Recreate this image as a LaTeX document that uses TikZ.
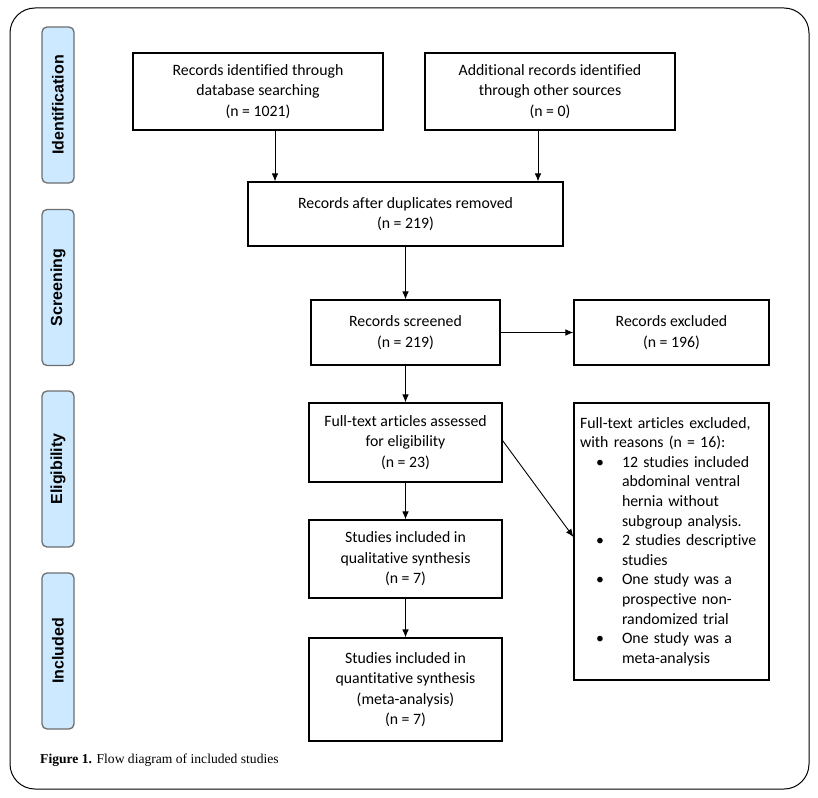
\documentclass[tikz,border=0pt]{standalone}
\usepackage{fontspec}
\setmainfont[Ligatures=NoCommon]{Carlito}
\newfontfamily\labelfont{Liberation Sans}
\newfontfamily\capfont{Liberation Serif}
\usetikzlibrary{arrows.meta}
\definecolor{lblue}{HTML}{CCE9FF}
\definecolor{lgray}{HTML}{6E6E6E}
\begin{document}
\begin{tikzpicture}[x=1pt,y=-1pt,
  box/.style={draw, line width=1.1pt, inner sep=0pt, align=center, font=\fontsize{15.8}{20.5}\selectfont},
  stage/.style={draw=lgray, fill=lblue, rounded corners=5pt, line width=1.3pt, rotate=90,
    minimum width=156pt, minimum height=32pt, inner sep=0pt, font=\labelfont\bfseries\fontsize{16}{18}\selectfont},
  arr/.style={-{Latex[length=8pt,width=6.5pt]}, line width=0.9pt}]
\useasboundingbox (0,0) rectangle (818,797);
\draw[line width=1pt, rounded corners=25pt] (10,8) rectangle (809,789);

\node[stage] (s1) at (58,105) {Identification};
\node[stage] (s2) at (58,287.5) {Screening};
\node[stage] (s3) at (58,469) {Eligibility};
\node[stage] (s4) at (58,651) {Included};

\node[box, minimum width=250pt, minimum height=77pt] (a) at (258,91.5) {Records identified through\\database searching\\(n = 1021)};
\node[box, minimum width=250pt, minimum height=77pt] (b) at (550,91.5) {Additional records identified\\through other sources\\(n = 0)};
\node[box, minimum width=315pt, minimum height=64pt] (c) at (405.5,214) {Records after duplicates removed\\(n = 219)};
\node[box, minimum width=189pt, minimum height=65pt] (d) at (405.5,332.5) {Records screened\\(n = 219)};
\node[box, minimum width=195pt, minimum height=65pt] (e) at (671.5,332.5) {Records excluded\\(n = 196)};
\node[box, minimum width=193pt, minimum height=79pt] (f) at (405.5,442.5) {Full-text articles assessed\\for eligibility\\(n = 23)};
\node[box, minimum width=193pt, minimum height=78pt] (g) at (405.5,559) {Studies included in\\qualitative synthesis\\(n = 7)};
\node[box, minimum width=193pt, minimum height=103pt] (h) at (405.5,689.5) {Studies included in\\quantitative synthesis\\(meta-analysis)\\(n = 7)};
\node[box, minimum height=277pt, text width=186pt, inner xsep=4.5pt, align=left, font=\fontsize{15.8}{19.6}\selectfont] (i) at (671.5,541.5) {\hspace*{1.5pt}Full-text articles excluded,\\\hspace*{1.5pt}with reasons (n = 16):\\
\hspace*{17.5pt}\makebox[26pt][l]{\textbullet}12 studies included\\
\hspace*{43.5pt}abdominal ventral\\
\hspace*{43.5pt}hernia without\\
\hspace*{43.5pt}subgroup analysis.\\
\hspace*{17.5pt}\makebox[26pt][l]{\textbullet}2 studies descriptive\\
\hspace*{43.5pt}studies\\
\hspace*{17.5pt}\makebox[26pt][l]{\textbullet}One study was a\\
\hspace*{43.5pt}prospective non-\\
\hspace*{43.5pt}randomized trial\\
\hspace*{17.5pt}\makebox[26pt][l]{\textbullet}One study was a\\
\hspace*{43.5pt}meta-analysis};

\draw[arr] ([xshift=17pt]a.south) -- ([xshift=17pt]a.south |- c.north);
\draw[arr] ([xshift=-12pt]b.south) -- ([xshift=-12pt]b.south |- c.north);
\draw[arr] (c.south) -- (d.north);
\draw[arr] (d.east) -- (e.west);
\draw[arr] (d.south) -- (f.north);
\draw[arr] (f.south) -- (g.north);
\draw[arr] (g.south) -- (h.north);
\draw[arr] ([yshift=2pt]f.east) -- ([yshift=4.5pt]i.west);

\node[anchor=base west, inner sep=0pt, font=\capfont\fontsize{13.6}{15}\selectfont] (cap) at (40,763) {\textbf{Figure 1.} Flow diagram of included studies};
\end{tikzpicture}
\end{document}
